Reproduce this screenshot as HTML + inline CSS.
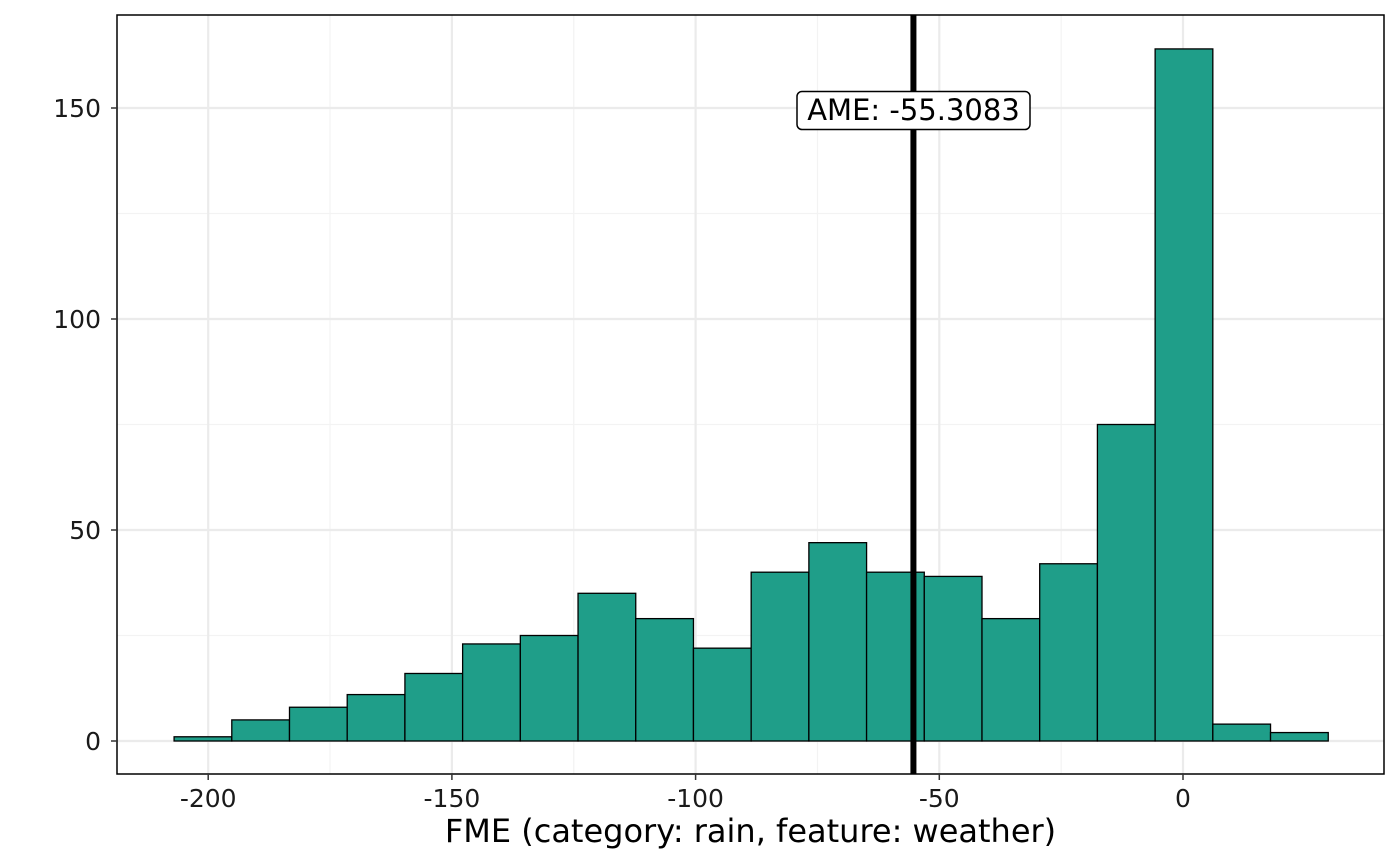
<!DOCTYPE html>
<html><head><meta charset="utf-8"><style>
body{margin:0;background:#fff;}
svg{display:block;font-family:"DejaVu Sans","Liberation Sans",sans-serif;}
</style></head><body>
<svg id="chart" width="1400" height="865"></svg>
<script>
const binStart = -207.0;
const binWidth = 11.84;
const counts = [1,5,8,11,16,23,25,35,29,22,40,47,40,39,29,42,75,164,4,2];
const xTicks = [-200,-150,-100,-50,0];
const xMinor = [-175,-125,-75,-25];
const yTicks = [0,50,100,150];
const yMinor = [25,75,125];
const ame = -55.3083;
const xLabel = "FME (category: rain, feature: weather)";

const ns = "http://www.w3.org/2000/svg";
const svg = document.getElementById('chart');
const P = {l:117, r:1384, t:15, b:774};
const sx = v => 1183 + v*4.874;
const sy = v => 741 - v*4.22;
function mk(tag, attrs, parent){const e=document.createElementNS(ns,tag);for(const k in attrs)e.setAttribute(k,attrs[k]);(parent||svg).appendChild(e);return e;}

const grid = mk('g',{});


yMinor.forEach(v=>mk('line',{x1:P.l,x2:P.r,y1:sy(v),y2:sy(v),stroke:'#F3F3F3','stroke-width':1.2},grid));
xMinor.forEach(v=>mk('line',{x1:sx(v),x2:sx(v),y1:P.t,y2:P.b,stroke:'#F3F3F3','stroke-width':1.2},grid));
yTicks.forEach(v=>mk('line',{x1:P.l,x2:P.r,y1:sy(v),y2:sy(v),stroke:'#EBEBEB','stroke-width':2.2},grid));
xTicks.forEach(v=>mk('line',{x1:sx(v),x2:sx(v),y1:P.t,y2:P.b,stroke:'#EBEBEB','stroke-width':2.2},grid));

const bars = mk('g',{});


counts.forEach((c,i)=>{
  const x0=sx(binStart+i*binWidth), x1=sx(binStart+(i+1)*binWidth);
  const r=mk('rect',{x:x0,y:sy(c),width:x1-x0,height:sy(0)-sy(c),fill:'#1F9E89',stroke:'#000','stroke-width':1.3},bars);
  
  
});

const vl = mk('line',{x1:sx(ame),x2:sx(ame),y1:P.t,y2:P.b,stroke:'#000','stroke-width':6});



const lg = mk('g',{});


mk('rect',{x:797,y:91.5,width:233,height:38,rx:5,fill:'#fff',stroke:'#000','stroke-width':1.5},lg);
const lt = mk('text',{x:913.5,y:120,'text-anchor':'middle','font-size':29,fill:'#000'},lg);
lt.textContent = 'AME: ' + ame;

const frame = mk('rect',{x:P.l,y:P.t,width:P.r-P.l,height:P.b-P.t,fill:'none',stroke:'#000','stroke-width':1.5});



const xa = mk('g',{});


xTicks.forEach(v=>{
  mk('line',{x1:sx(v),x2:sx(v),y1:P.b,y2:P.b+6,stroke:'#333','stroke-width':1.5},xa);
  const t=mk('text',{x:sx(v),y:807,'text-anchor':'middle','font-size':25,fill:'#1a1a1a'},xa);
  t.textContent=v;
});
const ya = mk('g',{});


yTicks.forEach(v=>{
  mk('line',{x1:P.l-6,x2:P.l,y1:sy(v),y2:sy(v),stroke:'#333','stroke-width':1.5},ya);
  const t=mk('text',{x:101,y:sy(v)+9,'text-anchor':'end','font-size':25,fill:'#1a1a1a'},ya);
  t.textContent=v;
});
const xt = mk('text',{x:(P.l+P.r)/2,y:842,'text-anchor':'middle','font-size':32,fill:'#000'});


xt.textContent = xLabel;
</script>
</body></html>
